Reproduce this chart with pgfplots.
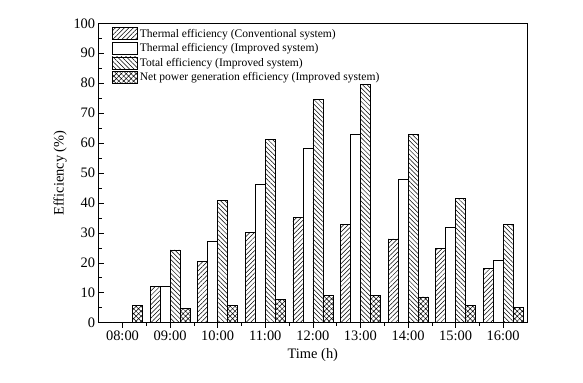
\documentclass[border=0pt]{standalone}
\usepackage{fontspec}
\setmainfont{Liberation Serif}
\usepackage{pgfplots}
\usepackage{pgfplotstable}
\pgfplotsset{compat=1.18}
\usetikzlibrary{patterns.meta}

% efficiency (%) per hour, 0 = 08:00 ... 8 = 16:00
\pgfplotstableread{
x conv impr total net
0 0    0    0    5.8
1 12.1 12.1 24.3 4.9
2 20.4 27.3 40.8 5.7
3 30.2 46.3 61.3 7.7
4 35.2 58.2 74.7 9.1
5 32.7 62.9 79.7 9.2
6 28.0 48.0 62.8 8.6
7 24.8 31.9 41.6 5.9
8 18.1 21.0 32.7 5.2
}\effdata

\begin{document}
\begin{tikzpicture}
\begin{axis}[
  name=ax,
  scale only axis,
  width=428.3bp, height=299.4bp,
  ybar=0pt, bar width=10bp,
  xmin=-0.5, xmax=8.5, ymin=0, ymax=100,
  xtick={0,...,8},
  xticklabels={08:00,09:00,10:00,11:00,12:00,13:00,14:00,15:00,16:00},
  ytick={0,10,...,100},
  minor x tick num=1, minor y tick num=1,
  tick pos=left,
  major tick length=5bp, minor tick length=3bp,
  tick style={black, line width=0.6pt},
  axis line style={line width=0.8pt},
  /pgf/number format/assume math mode=true,
  ticklabel style={font=\fontsize{14.5}{16}\selectfont},
  label style={font=\fontsize{14.5}{16}\selectfont},
  xlabel={Time (h)}, ylabel={Efficiency (\%)},
  xlabel style={at={(axis description cs:0.5,-0.108)}, anchor=center},
  ylabel style={at={(axis description cs:-0.0904,0.5)}, anchor=center},
  legend image code/.code={\draw[#1] (0bp,-6bp) rectangle (25bp,6bp);},
  legend cell align=left,
  legend style={draw=none, fill=none, at={(axis description cs:0.03,0.987)},
    anchor=north west, inner sep=0pt, row sep=2.0bp, column sep=1bp,
    nodes={inner sep=1.5bp, font=\fontsize{11.6}{12}\selectfont}},
]
\addplot[draw=black, line width=0.6pt, pattern={Lines[angle=45,distance=3.2bp,line width=0.5bp]}]
  table[x=x,y=conv]{\effdata};
\addlegendentry{Thermal efficiency (Conventional system)}
\addplot[draw=black, line width=0.6pt, fill=white]
  table[x=x,y=impr]{\effdata};
\addlegendentry{Thermal efficiency (Improved system)}
\addplot[draw=black, line width=0.6pt, pattern={Lines[angle=-45,distance=3.2bp,line width=0.5bp]}]
  table[x=x,y=total]{\effdata};
\addlegendentry{Total efficiency (Improved system)}
\addplot[draw=black, line width=0.6pt, pattern={Hatch[angle=45,distance=3.5bp,line width=0.5bp]}]
  table[x=x,y=net]{\effdata};
\addlegendentry{Net power generation efficiency (Improved system)}
\end{axis}
\path (ax.south west) ++(-98.7bp,-60.3bp) rectangle ++(583bp,383bp);
\end{tikzpicture}
\end{document}
